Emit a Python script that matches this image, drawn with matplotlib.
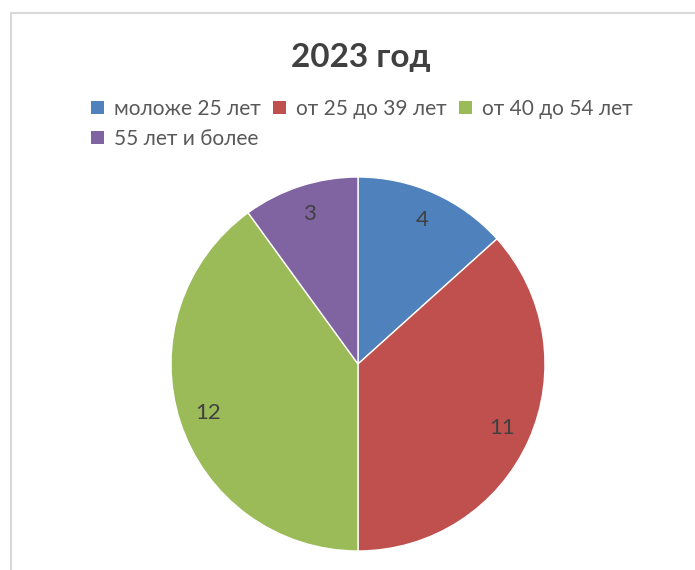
import matplotlib
matplotlib.use("Agg")
import matplotlib.pyplot as plt
from matplotlib.patches import Patch, Rectangle

# age groups of staff, 2023
categories = ["моложе 25 лет", "от 25 до 39 лет", "от 40 до 54 лет", "55 лет и более"]
values = [4, 11, 12, 3]
colors = ["#4F81BD", "#C0504D", "#9BBB59", "#8064A2"]
title = "2023 год"

plt.rcParams["font.family"] = ["Lato", "DejaVu Sans"]

W, H = 695, 570
fig = plt.figure(figsize=(W / 100, H / 100), dpi=100)

# chart area frame (cut off at right / bottom in the source)
fig.patches.append(Rectangle((11 / W, -0.1), 1.2, (H - 13) / H + 0.1, transform=fig.transFigure,
                             fill=False, edgecolor="#D9D9D9", linewidth=1.5))

cx, cy, r = 358, H - 364, 187
ax = fig.add_axes([(cx - r) / W, (cy - r) / H, 2 * r / W, 2 * r / H])
wedges, texts = ax.pie(values, colors=colors, startangle=90, counterclock=False,
                       labels=[str(v) for v in values], labeldistance=0.845,
                       wedgeprops=dict(edgecolor="white", linewidth=1),
                       textprops=dict(fontsize=16, color="#404040"))
for t in texts:
    t.set_ha("center")
ax.set_xlim(-1, 1); ax.set_ylim(-1, 1); ax.set_aspect("equal"); ax.axis("off")

fig.text(361 / W, 1 - 57 / H, title, ha="center", va="center",
         fontsize=24, fontweight="bold", color="#404040")

# legend fills column-wise; reorder so it reads row-wise like the source
order = [0, 3, 1, 2]
handles = [Patch(facecolor=colors[i], edgecolor="none") for i in order]
fig.legend(handles, [categories[i] for i in order], ncol=3, loc="upper left",
           bbox_to_anchor=(91 / W, 1 - 99 / H), borderpad=0, borderaxespad=0,
           frameon=False, fontsize=15, labelcolor="#595959", handlelength=0.6, handleheight=0.6,
           handletextpad=0.5, columnspacing=0.6, labelspacing=0.48)

fig.savefig("out.png", dpi=100)
